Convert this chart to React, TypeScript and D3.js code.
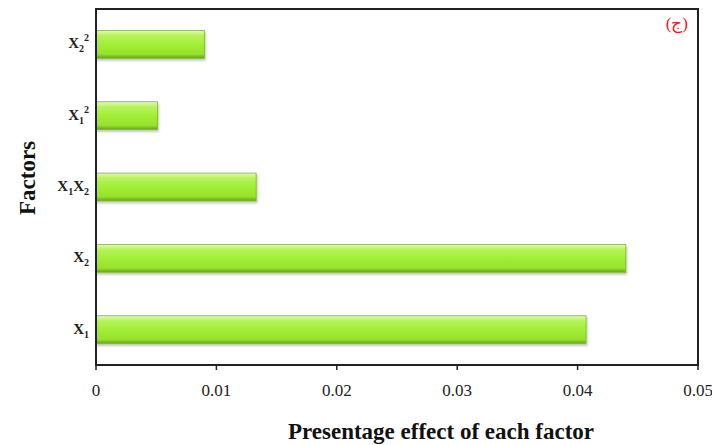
import React from "react";
import * as d3 from "d3";

// factors listed from top to bottom; a digit after X is a subscript, "^2" a superscript
const factors = ["X2^2", "X1^2", "X1X2", "X2", "X1"];
const effects = [0.009, 0.0051, 0.0133, 0.044, 0.0407];
const xTicks = [0, 0.01, 0.02, 0.03, 0.04, 0.05];
const xTickLabels = ["0", "0.01", "0.02", "0.03", "0.04", "0.05"];

const W = 712;
const H = 445;
const margin = { top: 9, right: 14, bottom: 80, left: 96 };
const serif = "Liberation Serif, Times New Roman, serif";

// turn "X2^2" into tspans, keeping track of the baseline shift
function FactorLabel({ name }: { name: string }) {
  const parts: React.ReactNode[] = [];
  let shift = 0;
  let i = 0;
  while (i < name.length) {
    const c = name[i];
    let target = 0;
    let text = c;
    let small = false;
    if (c === "^") {
      target = -7;
      text = name[i + 1];
      small = true;
      i += 2;
    } else if (/\d/.test(c)) {
      target = 4;
      small = true;
      i += 1;
    } else {
      i += 1;
    }
    parts.push(
      <tspan key={i} dy={target - shift} fontSize={small ? 10 : 15}>
        {text}
      </tspan>
    );
    shift = target;
  }
  return <>{parts}</>;
}

export default function App() {
  const x = d3
    .scaleLinear()
    .domain([0, 0.05])
    .range([margin.left, W - margin.right]);

  const y = d3
    .scaleBand<string>()
    .domain(factors)
    .range([margin.top, H - margin.bottom])
    .paddingInner(0.61)
    .paddingOuter(0.3);

  const plotBottom = H - margin.bottom;
  const left = x(0);
  const right = x(0.05);
  const lw = 2; // frame line width, drawn as filled rects

  return (
    <div style={{ position: "absolute", left: 0, top: 0, width: W, height: H, background: "#fff" }}>
      <svg width={W} height={H} style={{ display: "block", fontFamily: serif }}>
        <defs>
          <linearGradient id="barFill" x1="0" y1="0" x2="0" y2="1">
            <stop offset="0" stopColor="#e2fbb0" />
            <stop offset="0.18" stopColor="#b6f45a" />
            <stop offset="0.5" stopColor="#a2ee36" />
            <stop offset="0.85" stopColor="#96e22c" />
            <stop offset="1" stopColor="#6a9e22" />
          </linearGradient>
          <filter id="shadow" x="-5%" y="-20%" width="110%" height="160%">
            <feDropShadow dx="1" dy="2" stdDeviation="1.2" floodColor="#888" floodOpacity="0.5" />
          </filter>
        </defs>

        {/* bars */}
        {factors.map((f, i) => (
          <rect
            key={f}
            x={left}
            y={y(f)}
            width={x(effects[i]) - left}
            height={y.bandwidth()}
            fill="url(#barFill)"
            stroke="#7fb838"
            strokeWidth={0.8}
            filter="url(#shadow)"
          />
        ))}

        {/* frame */}
        <g fill="#222">
          <rect x={left - lw / 2} y={margin.top - lw / 2} width={right - left + lw} height={lw} />
          <rect x={right - lw / 2} y={margin.top - lw / 2} width={lw} height={plotBottom - margin.top + lw} />
          <rect x={left - lw / 2} y={plotBottom - lw / 2} width={right - left + lw} height={lw} />
          <rect x={left - lw / 2} y={margin.top - lw / 2} width={lw} height={plotBottom - margin.top + lw} />
        </g>

        {/* x ticks */}
        {xTicks.map((t, i) => (
          <g key={t} transform={`translate(${x(t)},${plotBottom})`}>
            <rect x={-0.75} y={0} width={1.5} height={5} fill="#222" />
            <text y={31} textAnchor="middle" fontSize={17} fill="#222" fontFamily={serif}>
              {xTickLabels[i]}
            </text>
          </g>
        ))}

        {/* y labels */}
        {factors.map((f) => (
          <text
            key={f}
            x={89}
            y={(y(f) ?? 0) + y.bandwidth() / 2 + 4}
            textAnchor="end"
            fontWeight="bold"
            fill="#222"
            fontFamily={serif}
          >
            <FactorLabel name={f} />
          </text>
        ))}

        {/* axis titles */}
        <text
          x={441}
          y={439}
          textAnchor="middle"
          fontSize={23}
          fontWeight="bold"
          fill="#111"
          fontFamily={serif}
        >
          Presentage effect of each factor
        </text>
        <text
          transform="translate(35,178) rotate(-90)"
          textAnchor="middle"
          fontSize={23}
          fontWeight="bold"
          fill="#111"
          fontFamily={serif}
        >
          Factors
        </text>

        {/* panel tag */}
        <text x={688} y={29} textAnchor="end" fontSize={17} fill="#e0202a" fontFamily={serif}>
          (ج)
        </text>
      </svg>
    </div>
  );
}
